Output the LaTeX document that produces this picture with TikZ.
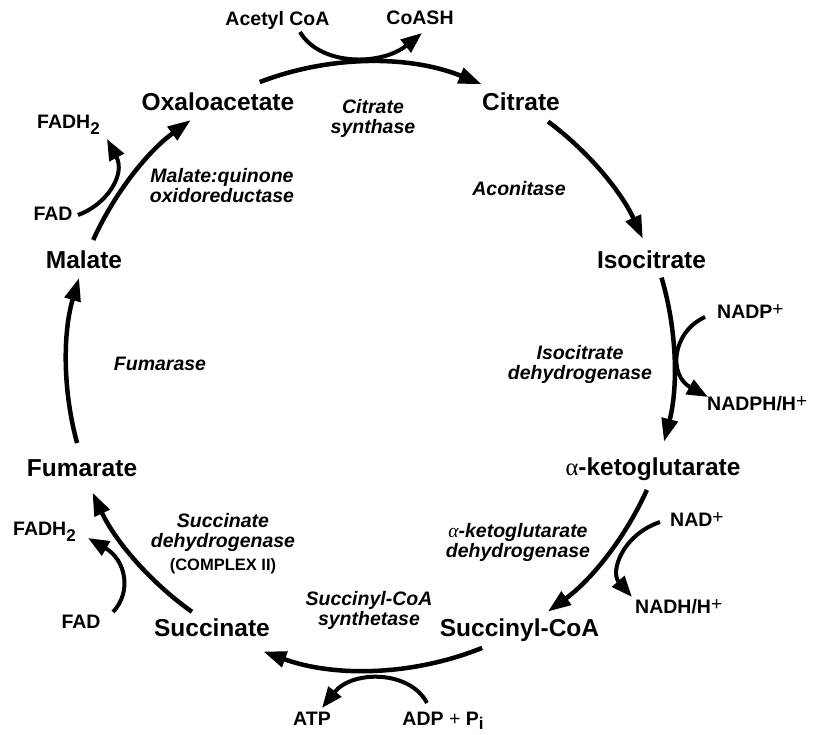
\documentclass[tikz,border=0pt]{standalone}
\usepackage{fontspec}
\setmainfont{Liberation Sans}
\newfontfamily\greek{Liberation Serif}
\usetikzlibrary{arrows.meta}
\newcommand{\al}{{\greek\mdseries α}}
\newcommand{\alit}{{\greek\mdseries\itshape α}}
\newcommand{\plussup}{\raisebox{3pt}{\fontsize{19}{19}\selectfont\mdseries +}}
\newcommand{\lowsub}[2][6pt]{\raisebox{-#1}{\fontsize{17}{17}\selectfont #2}}
\begin{document}
\begin{tikzpicture}[x=1pt,y=1pt,
  met/.style={font=\fontsize{24.5}{28}\selectfont\bfseries, inner sep=0pt, anchor=base},
  enz/.style={font=\fontsize{19.5}{20}\selectfont\bfseries\itshape, inner sep=0pt, align=center},
  cof/.style={font=\fontsize{19.5}{22}\selectfont\bfseries, inner sep=0pt, anchor=base},
  cyc/.style={line width=4.5pt, -{Triangle[length=23pt,width=16pt]}},
  side/.style={line width=4pt, -{Triangle[length=21pt,width=16pt]}}]
\useasboundingbox (0,0) rectangle (817,-734);

% metabolites of the cycle
\node[met] (oaa) at (218,-110) {Oxaloacetate};
\node[met] (cit) at (521,-110) {Citrate};
\node[met] (icit) at (651.5,-268) {Isocitrate};
\node[met] (akg) at (653,-475) {\al-ketoglutarate};
\node[met] (scoa) at (519.5,-636) {Succinyl-CoA};
\node[met] (succ) at (212,-636) {Succinate};
\node[met] (fum) at (82,-476) {Fumarate};
\node[met] (mal) at (84,-268) {Malate};

% enzymes
\node[enz] (cs) at (373,-118) {Citrate\\synthase};
\node[enz, anchor=base] (acn) at (519,-195) {Aconitase};
\node[enz] (idh) at (580,-364) {Isocitrate\\dehydrogenase};
\node[enz] (kgdh) at (518,-542) {\alit-ketoglutarate\\dehydrogenase};
\node[enz] (scs) at (369,-610) {Succinyl-CoA\\synthetase};
\node[enz] (sdh) at (223,-544) {Succinate\\dehydrogenase\\[3pt]{\upshape\fontsize{16.5}{20}\selectfont (COMPLEX II)}};
\node[enz, anchor=base] (fh) at (160,-370) {Fumarase};
\node[enz] (mqo) at (222,-186) {Malate:quinone\\oxidoreductase};

% cofactors
\node[cof] (acoa) at (277.5,-25) {Acetyl CoA};
\node[cof] (coash) at (420,-24) {CoASH};
\node[cof, anchor=base west] (nadp) at (717,-318) {NADP\plussup};
\node[cof, anchor=base west] (nadph) at (707,-410) {NADPH/H\plussup};
\node[cof, anchor=base west] (nad) at (670,-526) {NAD\plussup};
\node[cof, anchor=base west] (nadh) at (635,-613) {NADH/H\plussup};
\node[cof] (adp) at (443,-725) {ADP {\mdseries +} P\lowsub[4pt]{i}};
\node[cof] (atp) at (312,-725) {ATP};
\node[cof, anchor=base west] (fadhb) at (13,-535) {FADH\lowsub{2}};
\node[cof] (fadb) at (81,-628) {FAD};
\node[cof, anchor=base west] (fadht) at (37,-128) {FADH\lowsub{2}};
\node[cof] (fadt) at (53,-220) {FAD};

% the cycle: arcs around a common hub
\coordinate (hub) at (368,-364);
\draw[cyc] ([shift={(111:302pt)}]hub) arc[start angle=111, end angle=67.9, radius=302pt];
\draw[cyc] ([shift={(53.4:302pt)}]hub) arc[start angle=53.4, end angle=24.5, radius=302pt];
\draw[cyc] ([shift={(16.4:306pt)}]hub) arc[start angle=16.4, end angle=-14.7, radius=306pt];
\draw[cyc] ([shift={(-24.3:306pt)}]hub) arc[start angle=-24.3, end angle=-54, radius=306pt];
\draw[cyc] ([shift={(-68.1:306pt)}]hub) arc[start angle=-68.1, end angle=-110, radius=306pt];
\draw[cyc] ([shift={(-125.4:304pt)}]hub) arc[start angle=-125.4, end angle=-155, radius=304pt];
\draw[cyc] ([shift={(195.2:301.5pt)}]hub) arc[start angle=195.2, end angle=163.4, radius=301.5pt];
\draw[cyc] ([shift={(155.7:301.5pt)}]hub) arc[start angle=155.7, end angle=126, radius=301.5pt];

% side reactions
\coordinate (acin) at (300,-32);   \coordinate (acout) at (422,-33);
\draw[side] (acin) .. controls (320,-66) and (381,-66) .. (acout);
\coordinate (nadpin) at (705,-317); \coordinate (nadpout) at (708,-397);
\draw[side] (nadpin) .. controls (672,-332) and (668,-375) .. (nadpout);
\coordinate (nadin) at (660,-522); \coordinate (nadout) at (632,-597);
\draw[side] (nadin) .. controls (622,-535) and (610,-572) .. (nadout);
\coordinate (adpin) at (427,-703); \coordinate (adpout) at (322,-708);
\draw[side] (adpin) .. controls (410,-670) and (352,-670) .. (adpout);
\coordinate (fadbin) at (113,-612); \coordinate (fadbout) at (88,-538);
\draw[side] (fadbin) .. controls (132,-592) and (126,-560) .. (fadbout);
\coordinate (fadtin) at (78,-215); \coordinate (fadtout) at (107,-139);
\draw[side] (fadtin) .. controls (106,-205) and (126,-175) .. (fadtout);
\end{tikzpicture}
\end{document}
